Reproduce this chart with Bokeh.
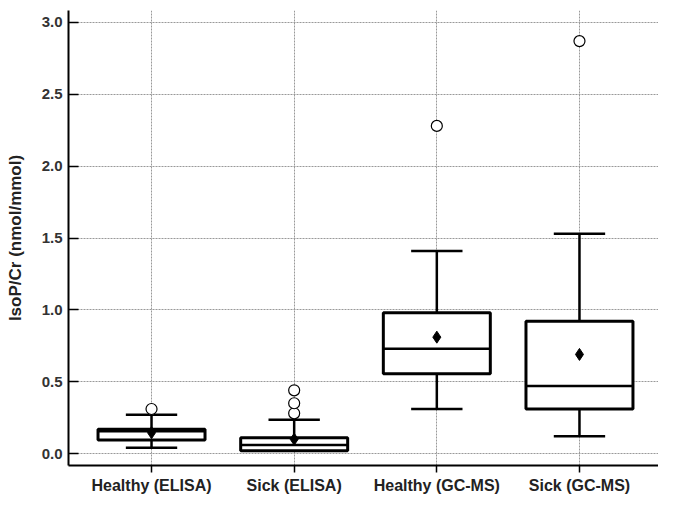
from bokeh.plotting import figure
from bokeh.models import FixedTicker, Range1d, ColumnDataSource, CustomJSTickFormatter
from bokeh.embed import file_html
from bokeh.resources import INLINE

categories = ["Healthy (ELISA)", "Sick (ELISA)", "Healthy (GC-MS)", "Sick (GC-MS)"]
positions = [1, 2, 3, 4]
lower = [0.04, 0.02, 0.31, 0.12]
q1 = [0.095, 0.02, 0.555, 0.31]
median = [0.155, 0.06, 0.73, 0.47]
q3 = [0.17, 0.11, 0.98, 0.92]
upper = [0.27, 0.235, 1.41, 1.53]
mean = [0.145, 0.10, 0.81, 0.69]
outlier_group = [1, 2, 2, 2, 3, 4]
outlier_value = [0.31, 0.28, 0.35, 0.44, 2.28, 2.87]
y_ticks = [0.0, 0.5, 1.0, 1.5, 2.0, 2.5, 3.0]

box_w = 0.75
cap_w = 0.36

p = figure(width=658, height=496, output_backend="svg", toolbar_location=None,
           x_range=Range1d(0.418, 4.554), y_range=Range1d(-0.083, 3.083),
           min_border_left=68, min_border_right=0, min_border_top=10, min_border_bottom=28)
p.outline_line_color = None
p.background_fill_color = "white"

src = ColumnDataSource(dict(
    x=positions, lower=lower, q1=q1, med=median, q3=q3, upper=upper, mean=mean,
    bx0=[x - box_w / 2 for x in positions], bx1=[x + box_w / 2 for x in positions],
    cx0=[x - cap_w / 2 for x in positions], cx1=[x + cap_w / 2 for x in positions],
))

# whiskers
p.segment(x0="x", y0="q3", x1="x", y1="upper", source=src, line_color="black", line_width=2.5)
p.segment(x0="x", y0="q1", x1="x", y1="lower", source=src, line_color="black", line_width=2.5)
p.segment(x0="cx0", y0="upper", x1="cx1", y1="upper", source=src, line_color="black", line_width=2.5)
p.segment(x0="cx0", y0="lower", x1="cx1", y1="lower", source=src, line_color="black", line_width=2.5)
# boxes
p.quad(left="bx0", right="bx1", bottom="q1", top="q3", source=src,
       fill_color="white", line_color="black", line_width=3)
p.segment(x0="bx0", y0="med", x1="bx1", y1="med", source=src, line_color="black", line_width=2.5)
# means
p.scatter(x="x", y="mean", source=src, marker="diamond", size=12, fill_color="black", line_color="black")
# outliers
p.scatter(x=outlier_group, y=outlier_value, marker="circle", size=11,
          fill_color="white", line_color="black", line_width=1.2)

font = "Liberation Sans"
# y axis
p.yaxis.ticker = FixedTicker(ticks=y_ticks)
p.yaxis.formatter = CustomJSTickFormatter(code="return tick.toFixed(1);")
p.yaxis.axis_label = "IsoP/Cr (nmol/mmol)"
p.yaxis.axis_label_text_font = font
p.yaxis.axis_label_text_font_style = "bold"
p.yaxis.axis_label_text_font_size = "17px"
p.yaxis.axis_label_text_color = "#222222"
p.yaxis.axis_label_standoff = 14
p.yaxis.major_label_text_font = font
p.yaxis.major_label_text_font_style = "bold"
p.yaxis.major_label_text_font_size = "15px"
p.yaxis.major_label_text_color = "#333333"
p.yaxis.major_tick_in = 10
p.yaxis.major_tick_out = 0
p.yaxis.major_tick_line_width = 1.5
p.yaxis.minor_tick_line_color = None
p.yaxis.major_label_standoff = 6
p.yaxis.axis_line_width = 2

# x axis
p.xaxis.ticker = FixedTicker(ticks=positions)
p.xaxis.major_label_overrides = {x: c for x, c in zip(positions, categories)}
p.xaxis.major_label_text_font = font
p.xaxis.major_label_text_font_style = "bold"
p.xaxis.major_label_text_font_size = "16px"
p.xaxis.major_label_text_color = "#222222"
p.xaxis.major_tick_in = 0
p.xaxis.major_tick_out = 7
p.xaxis.major_tick_line_width = 1.5
p.xaxis.minor_tick_line_color = None
p.xaxis.major_label_standoff = 4
p.xaxis.axis_line_width = 2

# grids
p.xgrid.ticker = FixedTicker(ticks=positions)
p.ygrid.ticker = FixedTicker(ticks=y_ticks)
for g in (p.xgrid, p.ygrid):
    g.grid_line_color = "#999999"
    g.grid_line_dash = "2 1"
    g.grid_line_width = 1

open("out.html", "w").write(file_html(p, INLINE))
